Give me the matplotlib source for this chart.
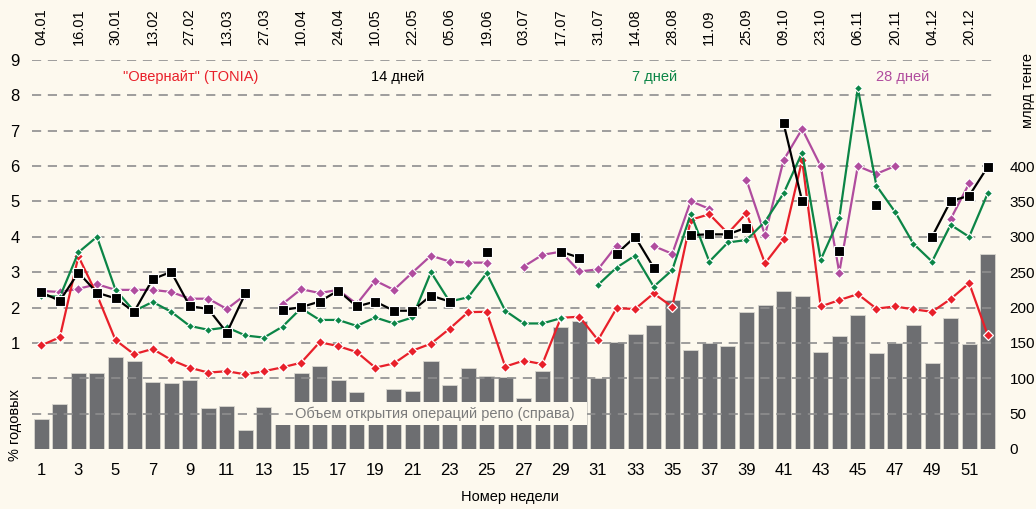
import numpy as np
import matplotlib
matplotlib.use('Agg')
import matplotlib.pyplot as plt
from matplotlib.patches import Rectangle

plt.rcParams['font.family'] = ['Liberation Sans', 'DejaVu Sans']

nan = np.nan
weeks = np.arange(1, 53)

# объем открытия операций репо, млрд тенге (правая ось)
repo_volume = [43, 63, 107, 107, 130, 124, 95, 93, 97, 58, 61, 27, 59, 55,
               107, 118, 98, 80, 45, 85, 82, 125, 91, 114, 103, 102, 72, 110,
               173, 181, 101, 151, 162, 175, 211, 140, 150, 145, 194, 204,
               223, 216, 137, 160, 189, 136, 150, 176, 122, 185, 149, 276]

# ставки, % годовых (левая ось)
tonia = [0.93, 1.16, 3.45, 2.36, 1.08, 0.68, 0.83, 0.52, 0.30, 0.16, 0.20,
         0.11, 0.20, 0.31, 0.44, 1.02, 0.91, 0.74, 0.30, 0.42, 0.78, 0.98,
         1.40, 1.87, 1.88, 0.33, 0.50, 0.40, 1.71, 1.74, 1.08, 1.98, 1.96,
         2.40, 2.02, 4.48, 4.64, 4.10, 4.67, 3.25, 3.93, 6.17, 2.03, 2.21,
         2.38, 1.97, 2.03, 1.95, 1.88, 2.24, 2.69, 1.22]
days7 = [2.34, 2.30, 3.56, 4.00, 2.50, 1.90, 2.16, 1.88, 1.48, 1.37, 1.44,
         1.21, 1.15, 1.46, 1.98, 1.65, 1.65, 1.48, 1.72, 1.55, 1.72, 3.00,
         2.17, 2.29, 2.97, 1.91, 1.55, 1.55, 1.70, nan, 2.64, 3.13, 3.47,
         2.59, 3.06, 4.65, 3.30, 3.84, 3.91, 4.43, 5.23, 6.38, 3.35, 4.52,
         8.20, 5.45, 4.71, 3.80, 3.30, 4.34, 4.00, 5.23]
days14 = [2.43, 2.19, 2.99, 2.42, 2.26, 1.88, 2.80, 3.01, 2.04, 1.96, 1.29,
          2.40, nan, 1.93, 2.01, 2.17, 2.48, 2.03, 2.17, 1.91, 1.91, 2.34,
          2.17, nan, 3.58, nan, nan, nan, 3.58, 3.41, nan, 3.52, 4.00, 3.13,
          nan, 4.05, 4.07, 4.07, 4.26, nan, 7.21, 5.01, nan, 3.61, nan, 4.90,
          nan, nan, 4.00, 5.01, 5.16, 5.98]
days28 = [2.47, 2.44, 2.53, 2.66, 2.50, 2.50, 2.50, 2.44, 2.25, 2.25, 1.96,
          2.36, nan, 2.10, 2.52, 2.41, 2.50, 2.10, 2.76, 2.50, 2.99, 3.47,
          3.30, 3.27, 3.27, nan, 3.16, 3.49, 3.58, 3.02, 3.08, 3.75, nan,
          3.74, 3.52, 5.01, 4.79, nan, 5.61, 4.05, 6.17, 7.05, 6.00, 2.99,
          6.00, 5.78, 6.00, nan, nan, 4.50, 5.51, nan]

top_dates = ['04.01', '16.01', '30.01', '13.02', '27.02', '13.03', '27.03',
             '10.04', '24.04', '10.05', '22.05', '05.06', '19.06', '03.07',
             '17.07', '31.07', '14.08', '28.08', '11.09', '25.09', '09.10',
             '23.10', '06.11', '20.11', '04.12', '20.12']

bg = '#fdf9ee'
c_red, c_green, c_mag, c_bar = '#e8202a', '#0b8546', '#b04c9e', '#6d6e71'
grid_c = '#8e8e8e'

fig = plt.figure(figsize=(10.36, 5.09), dpi=100, facecolor=bg)
rect = [32 / 1036, 1 - 449 / 509, 965 / 1036, 389 / 509]

# ── bars (right axis) ────────────────────────────────────────────────────────
axb = fig.add_axes(rect, facecolor=bg)
axb.bar(weeks, repo_volume, width=0.81, color=c_bar, edgecolor='#d8d6cf',
        linewidth=0.6, zorder=2)
axb.set_xlim(0.5, 52.5)
axb.set_ylim(0, 550)
axb.yaxis.tick_right()
axb.set_yticks(range(0, 401, 50))
axb.tick_params(axis='y', length=0, pad=9, labelsize=11)
for lbl in axb.get_yticklabels():
    lbl.set_horizontalalignment('left')
axb.set_xticks(range(1, 52, 2))
axb.tick_params(axis='x', length=0, pad=10, labelsize=12)
for s in axb.spines.values():
    s.set_visible(False)

# ── lines (left axis) ────────────────────────────────────────────────────────
ax = fig.add_axes(rect, facecolor='none')
ax.set_xlim(0.5, 52.5)
ax.set_ylim(-2, 9)
ax.set_xticks([])
ax.set_yticks(range(1, 10))
ax.tick_params(axis='y', length=0, pad=9, labelsize=12)
for s in ax.spines.values():
    s.set_visible(False)

for v in range(-1, 10):
    ax.axhline(v, color=grid_c, lw=1.2, ls=(0, (5.5, 4)), zorder=3)

# cream box over the bars with the series caption
ax.add_patch(Rectangle((13.595, -1.32), 16.81, 0.64, facecolor=bg,
                       edgecolor='none', zorder=2.5))
ax.add_patch(Rectangle((29.6, -1.32), 0.805, 0.64, facecolor=bg,
                       edgecolor='none', zorder=3.5))
ax.text(22.2, -1.0, 'Объем открытия операций репо (справа)', ha='center',
        va='center', fontsize=10.5, color='#7b7b7b', zorder=4,
        bbox=dict(facecolor=bg, edgecolor='none', pad=1))

ax.plot(weeks, tonia, color=c_red, lw=1.6, marker='D', ms=5.2,
        mfc=c_red, mec='white', mew=0.9, zorder=6)
ax.plot(weeks, days7, color=c_green, lw=1.6, marker='D', ms=4.0,
        mfc=c_green, mec='white', mew=0.8, zorder=7)
ax.plot(weeks, days28, color=c_mag, lw=1.6, marker='D', ms=4.8,
        mfc=c_mag, mec='white', mew=0.8, zorder=5)
ax.plot(weeks, days14, color='black', lw=1.6, marker='s', ms=7.5,
        mfc='black', mec='white', mew=0.8, zorder=8)

# series names
ax.text(9.06, 8.52, '"Овернайт" (TONIA)', color=c_red, ha='center',
        va='center', fontsize=10.5)
ax.text(20.2, 8.52, '14 дней', color='black', ha='center', va='center',
        fontsize=10.5)
ax.text(34.05, 8.52, '7 дней', color=c_green, ha='center', va='center',
        fontsize=10.5)
ax.text(47.4, 8.52, '28 дней', color=c_mag, ha='center', va='center',
        fontsize=10.5)

# dates on top
for wk, d in zip(range(1, 52, 2), top_dates):
    ax.text(wk, 9.42, d, rotation=90, ha='center', va='bottom', fontsize=10.5)

fig.text(15 / 1036, 1 - 425 / 509, '% годовых', rotation=90, ha='center',
         va='center', fontsize=10.5)
fig.text(1028 / 1036, 1 - 90 / 509, 'млрд тенге', rotation=90, ha='center',
         va='center', fontsize=10.5)
fig.text(510 / 1036, 1 - 497 / 509, 'Номер недели', ha='center',
         va='center', fontsize=10.5)

fig.savefig('out.png', dpi=100, facecolor=bg)
